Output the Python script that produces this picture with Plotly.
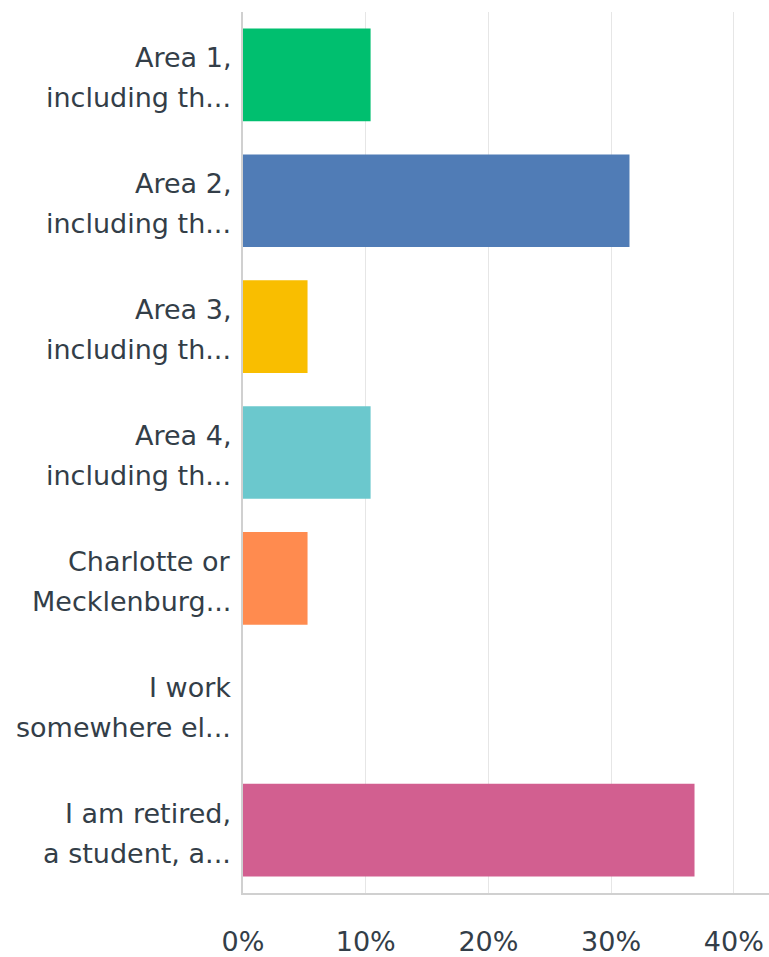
import plotly.graph_objects as go

categories = [
    ["Area 1,", "including th..."],
    ["Area 2,", "including th..."],
    ["Area 3,", "including th..."],
    ["Area 4,", "including th..."],
    ["Charlotte or", "Mecklenburg..."],
    ["I work", "somewhere el..."],
    ["I am retired,", "a student, a..."],
]
cat_keys = [" ".join(c) for c in categories]
values = [10.4, 31.5, 5.26, 10.4, 5.26, 0.0, 36.8]
colors = ["#00BF6F", "#507CB6", "#F9BE00", "#6BC8CD", "#FF8B4F", "#7D5E90", "#D25F90"]
x_ticks = [0, 10, 20, 30, 40]
x_tick_labels = ["0%", "10%", "20%", "30%", "40%"]

TEXT = "#333E48"
FONT = "DejaVu Sans"

fig = go.Figure(go.Bar(
    x=values, y=cat_keys, orientation="h",
    marker=dict(color=colors, line=dict(width=0)),
    hoverinfo="skip",
))

annotations = []
for key, lines in zip(cat_keys, categories):
    for i, ln in enumerate(lines):
        annotations.append(dict(
            x=0, xref="paper", y=key, yref="y",
            text=ln, showarrow=False, xanchor="right", yanchor="middle",
            xshift=-10, yshift=(17 if i == 0 else -23),
            font=dict(family=FONT, size=27, color=TEXT),
        ))

fig.update_layout(
    width=769, height=957,
    margin=dict(l=243, r=0, t=12, b=59),
    paper_bgcolor="white", plot_bgcolor="white",
    bargap=0.264,
    showlegend=False,
    annotations=annotations,
    xaxis=dict(
        range=[0, 42.87], tickvals=x_ticks, ticktext=x_tick_labels,
        showgrid=True, gridcolor="#E6E6E6", gridwidth=1,
        zeroline=False, showline=True, linecolor="#D0D0D0", linewidth=2,
        tickfont=dict(family=FONT, size=27, color=TEXT),
        ticks="", ticklabelstandoff=24, fixedrange=True,
    ),
    yaxis=dict(
        autorange="reversed", showticklabels=False, showgrid=False,
        zeroline=False, showline=True, linecolor="#D0D0D0", linewidth=2,
        ticks="", fixedrange=True,
    ),
)

fig.write_html("out.html")
